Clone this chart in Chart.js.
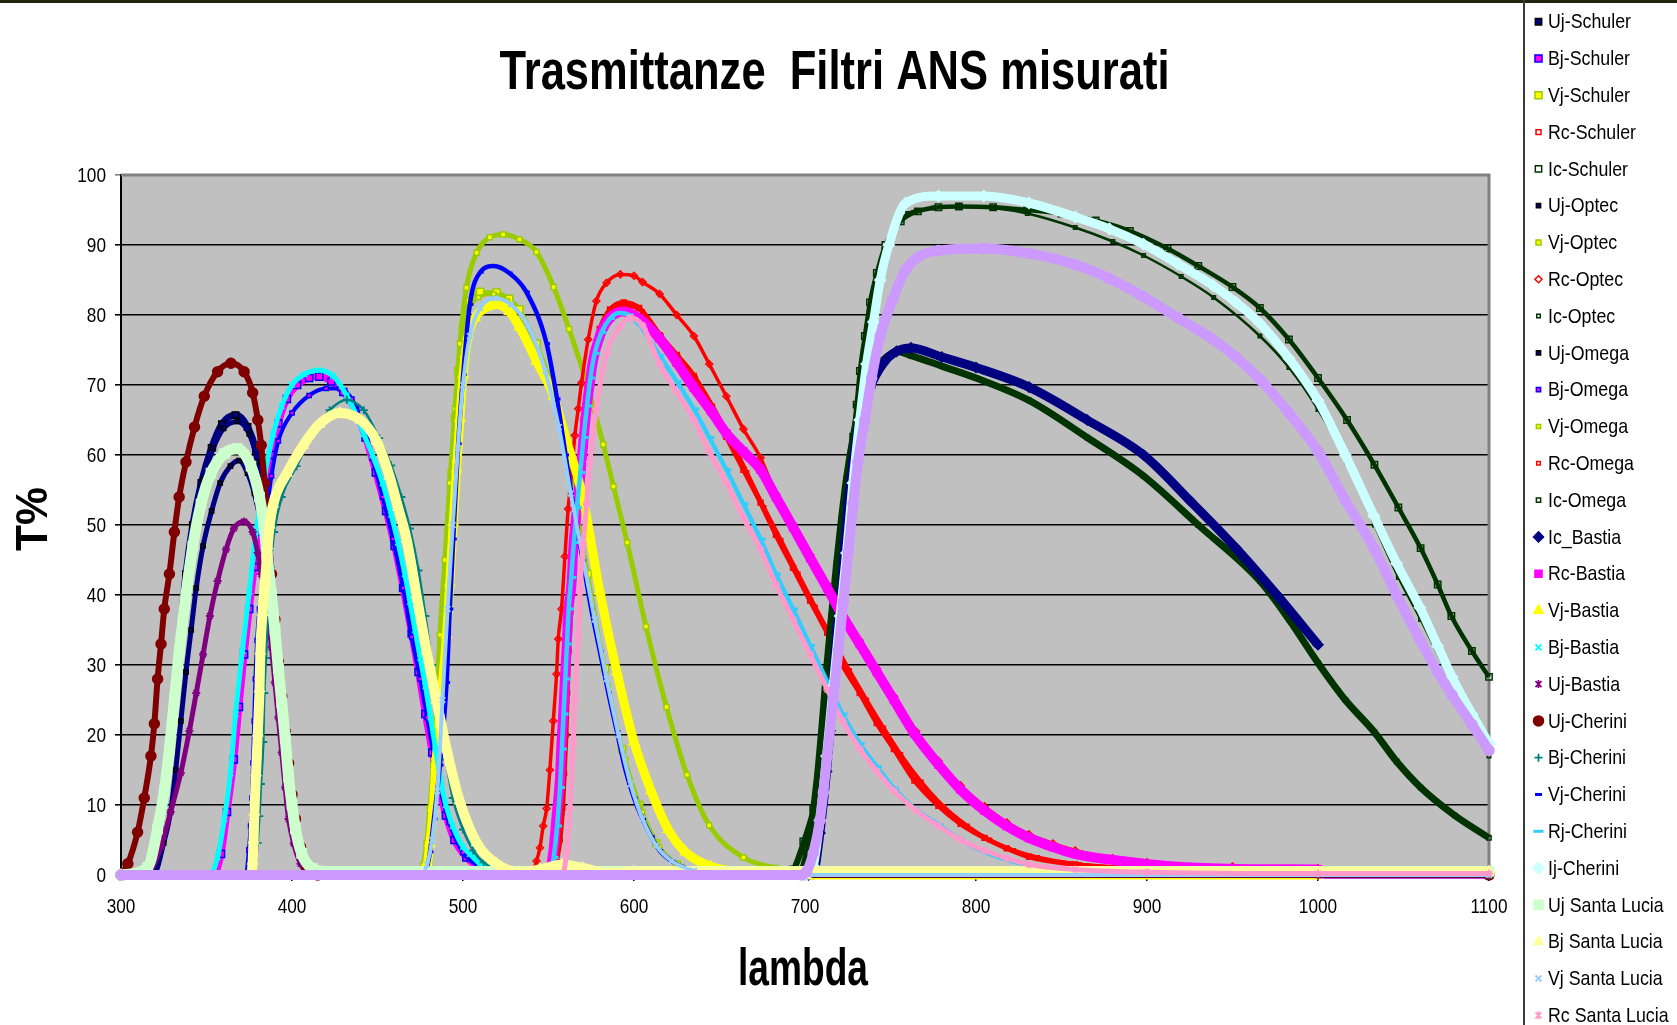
<!DOCTYPE html>
<html>
<head>
<meta charset="utf-8">
<title>Trasmittanze Filtri ANS misurati</title>
<script src="https://cdn.jsdelivr.net/npm/chart.js@4.4.1/dist/chart.umd.min.js"></script>
<style>
  html, body { margin: 0; padding: 0; background: #fff; overflow: hidden; }
  #c { position: absolute; left: 0; top: 0; }
</style>
</head>
<body>
<canvas id="c" width="1677" height="1025"></canvas>
<script>
// === Assi ===
const xTicks = [300, 400, 500, 600, 700, 800, 900, 1000, 1100];
const yTicks = [0, 10, 20, 30, 40, 50, 60, 70, 80, 90, 100];

const seriesNames = [
  "Uj-Schuler", "Bj-Schuler", "Vj-Schuler", "Rc-Schuler", "Ic-Schuler",
  "Uj-Optec", "Vj-Optec", "Rc-Optec", "Ic-Optec",
  "Uj-Omega", "Bj-Omega", "Vj-Omega", "Rc-Omega", "Ic-Omega",
  "Ic_Bastia", "Rc-Bastia", "Vj-Bastia", "Bj-Bastia", "Uj-Bastia",
  "Uj-Cherini", "Bj-Cherini", "Vj-Cherini", "Rj-Cherini", "Ij-Cherini",
  "Uj Santa Lucia", "Bj Santa Lucia", "Vj Santa Lucia", "Rc Santa Lucia", "Ic Santa Lucia"
];

// === Dati: [lambda, T%] ===
const ujSchuler = [[300,0],[317,0],[321,4.6],[324,9],[327,15],[330,21.5],[332,28],[335,35.5],[338,43],[342,50],[347,56],[353,61],[359,64.4],[367,65.7],[374,64],[379,60.5],[383,54.5],[385,49],[387,43],[389,37.5],[391,32],[393,26.5],[395,21],[397,15.5],[399,11],[401,7],[404,3.5],[408,1],[415,0],[1100,0]];
const bjSchuler = [[300,0],[354,0],[358.5,3],[362,9],[366,16.5],[369,24],[372,31.5],[375,38],[378,44],[381,49],[384,54],[388,60],[392,64.5],[397,68],[403,70],[410,71],[416,71.2],[423,70.5],[430,69],[437,66.5],[443,62.5],[449,57.5],[455,52],[460,47],[465,41],[470,34.5],[474,29],[478,23],[482,17.5],[486,12.5],[490,8.5],[495,5],[502,2.5],[512,0.8],[525,0],[1100,0]];
const vjSchuler = [[300,0],[476,0],[479.7,2],[481.6,6.4],[483.6,12.6],[485.5,20],[487.5,28.7],[489.4,37],[491.4,48.6],[493.3,57.3],[495.3,65.3],[497.2,72],[500,78.3],[504,82],[510,83.3],[519.6,83.2],[527,82.3],[533,80.8],[543,75.9],[553,69],[563,57],[573,43],[583,29.5],[593,18],[603,10],[613,4.5],[625,1.5],[640,0.3],[655,0],[1100,0]];
const rcSchuler = [[300,0],[552,0],[554,2],[556,5],[557.5,9],[558.5,14],[559.5,19],[560.3,25],[561,31],[562,37],[563.5,42],[564.5,47],[566.4,54],[568.4,59.7],[570.5,65],[573,70.5],[576,74.5],[580,78],[586,80.8],[594,81.8],[603,81],[615,77.1],[625,74.3],[635,71.3],[644,67.2],[654,62.6],[664,57.9],[674,53.2],[683,48.6],[693,43.9],[703,39.2],[713,34.6],[722,30],[732,26],[742,21.7],[752,18],[764,13.5],[778,9.9],[791,7.3],[805,5.3],[818,3.8],[831,2.6],[858,1.5],[885,1],[950,0.6],[1000,0.5]];
const icSchuler = [[300,0],[690,0],[693,0.8],[699,4.8],[704.8,9.5],[707.7,13],[710.7,17.7],[712.6,22.3],[715.5,27.6],[717.5,32.2],[719.4,38],[721.4,44],[723.3,49.7],[726.3,58],[728.2,62.6],[730.2,67.2],[732.1,72],[735,77],[738,81.8],[742,86],[747,90],[756,93.4],[766,94.8],[778,95.4],[790,95.5],[810,95.4],[830,95],[850,94.5],[870,93.5],[890,92],[912,89.5],[930,87],[950,84],[966,81],[983,76.5],[1000,71],[1017,65],[1033,58.6],[1047,52.5],[1060,46.7],[1070,41.5],[1078,37],[1090,32],[1100,28.3]];
const ujOptec = [[300,0],[319,0],[325,4.6],[329,9],[332,15],[335,22],[338,29],[341,35],[344,41],[348,47],[353,52],[358,56],[364,58.4],[369,59.2],[374,57.4],[378,54.5],[382,50],[385,45],[387,40],[389,35],[391,30],[393,25],[395,19.5],[397,14.5],[399,10],[401,6.5],[404,3],[408,0.8],[415,0],[1100,0]];
const vjOptec = [[300,0],[475,0],[476.7,1.4],[478.7,4.5],[480.6,9.5],[482.6,15.7],[484.5,24.4],[486.5,34.3],[489.4,45],[492.3,56],[495.3,66.6],[498.2,75.9],[502,83.9],[508,88.9],[515.7,91.1],[523.5,91.5],[533,90.8],[543,89],[553,84],[562,78],[572,70.5],[582,61.5],[588,55.5],[596,47.5],[607,35.5],[619,24],[631,14.3],[644,7.1],[664,2.5],[683,1],[700,0.2],[720,0],[1100,0]];
const rcOptec = [[300,0],[540,0],[543,2],[545,3.9],[546.9,7],[548.9,9.5],[550.8,15],[552.8,22],[554.7,28.7],[555.7,33.7],[557.6,38],[559.6,45.5],[561.5,52.3],[563.5,57.3],[565.4,62.8],[567.4,66.6],[569.3,70.3],[573.2,76.5],[578,82],[584,84.6],[592,85.8],[600,85.6],[605,84.7],[615,83],[625,80],[635,77],[644,73],[654,68.4],[664,63.7],[674,59.6],[683,54.4],[693,49.7],[703,45.5],[713,41.5],[722,37.5],[732,33.5],[742,29.5],[752,25.5],[765,20.5],[778,16.3],[791,12.8],[805,9.8],[818,7.5],[831,5.8],[845,4.5],[858,3.5],[880,2.4],[900,1.8],[950,1.2],[1000,1]];
const icOptec = [[300,0],[691,0],[695,1],[700,4.5],[705,10],[708.5,15],[711.5,21.5],[714,28],[716.5,34],[719,41],[721.5,47.5],[724,54],[727,61],[730,67],[733.5,73],[737,79],[741,84.5],[746,89],[752,92.5],[760,94.5],[775,95.3],[790,95.5],[810,95.3],[830,94.5],[858,92.5],[880,90.5],[898,88.5],[920,85.5],[939,82.5],[966,77],[983,72.5],[1000,66.5],[1017,59],[1033,50],[1047,42.5],[1060,36.5],[1078,27.5],[1090,21.5],[1100,17]];
const ujOmega = [[300,0],[318,0],[322,4.5],[325,9.5],[328,15.5],[331,22],[333,28.5],[336,36],[339,43.5],[343,50.5],[348,56.5],[354,61],[360,63.8],[368,64.8],[375,63],[380,59],[383,54],[385,48.5],[387,42.5],[389,37],[391,31.5],[393,26],[395,20.5],[397,15],[399,10.5],[401,6.8],[404,3.3],[408,1],[415,0],[1100,0]];
const bjOmega = [[300,0],[373,0],[374.8,3.6],[375.8,7],[376.6,11],[377.2,16],[377.9,22],[378.6,28],[379.6,33.5],[381,38],[382.5,39.5],[385,51],[388,57],[392,62],[400,66],[410,68.5],[420,69.5],[428,69.5],[435,68],[441,64.5],[447,59.5],[453,54],[459,48],[465,41],[470,34],[475,28],[479,22.5],[483,17],[487,12],[492,7.5],[500,3.2],[512,1],[525,0],[1100,0]];
const vjOmega = [[300,0],[477,0],[480,2.5],[482,7],[484,14],[486,22],[488,31],[490,40],[492.5,50],[494.5,59],[496.5,66.5],[499,74],[503,80],[509,82.5],[518,83],[526,82],[535,79.5],[545,74],[555,65.5],[565,53],[575,39.5],[585,27],[595,16.5],[605,9],[615,4],[628,1.2],[645,0.2],[660,0],[1100,0]];
const rcOmega = [[300,0],[553,0],[555,2],[557,5],[558.5,9.5],[559.5,14.5],[560.5,20],[561.3,26],[562.2,32],[563.2,37.5],[564.5,43],[565.8,48],[567.5,54.5],[569.5,60],[572,66],[575,71],[578.5,75.5],[583,79],[589,80.8],[596,81.3],[605,80.5],[616,77],[626,74],[636,71],[646,67],[656,62.5],[666,57.5],[676,52.5],[686,47.8],[696,43],[706,38.3],[716,33.7],[726,29.2],[736,25],[746,21],[756,17.2],[768,13.3],[781,9.8],[795,7],[808,5],[822,3.5],[836,2.5],[860,1.5],[900,0.9],[1000,0.5]];
const icOmega = [[300,0],[696,0],[701,3],[706.8,13],[710.7,23.5],[712.6,29.3],[715.5,37],[718.5,44.5],[721.4,51],[724.3,56.7],[728.2,62.6],[732.1,67.2],[738,71.3],[745.8,73.6],[753.5,74.8],[762,74.2],[780,72.7],[800,71],[831,67.8],[865,62.5],[898,57],[930,50],[966,42],[983,36.5],[1000,30.3],[1016,25],[1033,20.4],[1046,16.2],[1060,12.5],[1080,8.5],[1100,5.3]];
const icBastia = [[300,0],[702,0],[704.8,0.2],[708.7,6],[712.6,14.8],[714.6,20.6],[716.5,27.6],[718.5,34.6],[721.4,41],[723.3,47.4],[725.3,53.2],[728.2,59.1],[732.1,65],[738,69.6],[745.8,73.1],[753.5,74.8],[762,75.3],[780,74],[800,72.5],[831,69.7],[865,65],[898,60],[925,53.5],[952,46.7],[976,40],[1000,32.9]];
const rcBastia = [[300,0],[550,0],[552.8,3.3],[554.7,8.3],[556.7,13.8],[557.6,18.8],[558.6,23],[559.6,28],[560.6,32.4],[561.5,37.4],[563.5,41.7],[564.5,46.7],[566.4,51.7],[568.4,56.6],[570.3,61.6],[572.3,66.6],[574.2,70.3],[576,73.4],[580,77],[586,79.6],[594,80.5],[603,79.5],[615,76.6],[625,73.2],[635,69.6],[645,66.3],[654,63.1],[664,60.5],[674,57.9],[683,54],[693,49.7],[703,45.3],[713,41],[722,37],[732,33],[742,29],[752,25],[764,20.2],[778,15.8],[791,12.2],[805,9.2],[818,7],[831,5.3],[845,4],[858,3],[885,2],[912,1.3],[947,0.9],[1000,0.8]];
const vjBastia = [[300,0],[478,0],[480.6,4.5],[482.6,9.5],[484.5,17],[487.5,26],[490.4,34.3],[492.3,41.7],[494.3,50.4],[496.2,58],[498.2,65.3],[500.1,71.5],[503,77],[507,79.6],[513.8,81.1],[520,81.5],[527,80.5],[533,78.3],[543,73.4],[553,68.4],[560,62.5],[570,54],[580,40.5],[590,29],[600,19],[610,12],[620,6.5],[630,3.3],[645,1.2],[670,0.3],[700,0],[1000,0]];
const bjBastia = [[300,0],[352,0],[356.5,2.6],[360.4,8],[364,14.5],[367,23],[371,32],[375,40.5],[378,47],[381,52.5],[384,57],[389,63],[394,67],[400,70],[407,71.5],[416,72.1],[424,71.3],[432,68.5],[438,65.5],[442,63],[447,60],[453,56],[458,51.5],[462,47.5],[466,43],[469,39],[472,35],[475,31],[478,27],[481,22.5],[484,18],[487,13.5],[490,10],[494,7],[500,4],[504,3],[510,1.6],[518,0.8],[530,0],[1000,0]];
const ujBastia = [[300,0],[315,0],[317.5,0.6],[323.4,4.1],[329,9],[335,14.6],[340,20.6],[344,26],[348,31.5],[352,37],[356.5,42],[361.4,46.5],[366,49.5],[372,50.5],[377,49],[380,46],[382,43],[384.5,40],[386,37],[388,32.5],[390,27.5],[392,22.5],[394,17.5],[396,12.5],[398,8],[401,4.5],[405,1.6],[410,0],[1000,0]];
const ujCherini = [[300,0],[304,1.6],[309.7,6.1],[313.6,11],[317.5,17],[319.5,21.6],[321.4,28],[323.4,33],[325.3,38],[328.3,43],[331.2,49],[334,54],[338,59],[343,64],[348.7,68.4],[356.5,71.9],[364.3,73.1],[372,71.9],[377,68.9],[380,65],[382,61.4],[384,56],[386,50],[388,43],[390,36.5],[392,30.5],[394,25.5],[396,20.5],[398,16],[400,11.5],[402,8],[405,4],[409,1.1],[415,0],[1100,0]];
const bjCherini = [[300,0],[378,0],[379.9,4.6],[380.9,8.4],[381.9,13],[383.2,19],[383.8,26],[384.8,31],[386,38],[387.5,44],[389.6,49],[394,54],[402.7,58.4],[412,63],[422,66.4],[432,67.9],[442,66.4],[451,62.4],[458,58.5],[464,54],[469,49.5],[474,43.5],[478,37],[482,30],[486,23],[490,16.5],[494,11],[500,6.5],[506,3.5],[512,1.8],[525,0.4],[540,0],[1100,0]];
const vjCherini = [[300,0],[477,0],[478.7,0.8],[480.7,3.3],[483,8],[486.5,15.7],[490.4,27.5],[492.3,38],[494.3,48],[497.2,61.6],[500.1,71.5],[504,81.5],[510,86.1],[518,87],[527,86],[537,83.3],[548.9,75.9],[555,68],[560,60],[565,52],[570,45],[575,38],[580,32],[585,26],[590,20.5],[595,15],[600,11],[605,8],[610,5.5],[615,3.5],[622,2],[630,1],[645,0.2],[660,0],[1100,0]];
const rjCherini = [[300,0],[551,0],[553,2.5],[555,7],[556.7,12.5],[557.8,18],[558.8,23],[559.8,28],[560.8,33],[561.8,38],[563.3,42.5],[564.8,47.5],[566.6,52.5],[568.6,57.5],[570.5,62.5],[572.5,67],[574.5,71],[577,74.5],[581,77.5],[586,79.5],[591,80.3],[597,80],[605,78],[615,74.2],[625,70.5],[635,66.6],[644,62.5],[654,57.9],[664,53],[674,48],[683,43],[693,38],[703,32.8],[713,27.6],[722,23],[732,18.8],[742,15.5],[752,12.4],[764,9.5],[778,7.2],[791,5],[805,3.3],[818,2.2],[831,1.4],[858,0.7],[900,0.4],[1000,0.3],[1100,0.3]];
const ijCherini = [[300,0],[700,0],[704.8,1.3],[708.7,7.8],[712.6,17],[716.5,27],[720.5,37],[724.3,46],[728,56],[732,65],[736,73],[740,79],[744,85],[749,90],[759,96],[778,97],[804.5,97],[831,96],[858,94],[878,92.3],[898,90.1],[918,87.3],[938.7,84.2],[952,81.8],[965.6,78.9],[983,73.8],[1000,67.8],[1016,60],[1032.7,51.3],[1046,44.5],[1059.6,38.2],[1070,32.7],[1078.4,28.3],[1090,23],[1100,18.8]];
const ujSantaLucia = [[300,0],[315.6,1.1],[321.4,6.6],[325.3,12],[328.3,18],[331.2,25],[334.1,32],[338,40],[342,47],[346.8,53],[352.6,57.4],[360.4,60.2],[368,60.9],[376,58.4],[381,54],[383.5,50],[385.5,45.5],[388,40],[390,35],[392,29.5],[394,24.6],[396,19.6],[398,14],[400,10],[402,6.6],[405.6,3.1],[412,0.9],[420,0.5],[1100,0.5]];
const bjSantaLucia = [[300,0],[376,0],[377,2],[377.5,5],[378,9],[379,14.6],[380,20.3],[381,26.6],[381.5,32],[382.8,37.5],[384.2,42],[385.8,47],[387,50],[389,53],[397,57.4],[406.6,61.4],[416,64.4],[428,66],[440,65],[449.5,62],[457,57],[462,52.5],[467,48],[472.8,40],[478.7,32],[484.5,25],[490.4,18],[498,10.6],[508,4.6],[519.6,1.6],[533,0.4],[545,0.8],[558,1.5],[570,1],[585,0.3],[600,0.5],[1100,0.5]];
const vjSantaLucia = [[300,0],[476,0],[479,1.5],[482,5],[485,12],[488,25],[491,38],[494,50],[497,61],[500,70],[504,77],[510,81],[519,82.4],[528,81.5],[538,78.5],[548,72],[556,64],[563,54.5],[570,45.5],[577,36.5],[584,28],[591,20],[598,13],[605,8],[613,4.2],[622,2],[635,0.6],[650,0],[1100,0]];
const rcSantaLucia = [[300,0],[558,0],[560.6,3.3],[562.5,9.5],[564.5,18.8],[565.4,25],[567.4,34.3],[568.4,40.5],[570.3,47.3],[572.3,53],[574.2,59],[578,66.6],[584,74.6],[591.7,78.3],[597.6,79.6],[605,78.5],[615,73],[625,69],[635,65],[644,60.5],[654,56],[664,51],[674,46.5],[683,41.5],[693,36.5],[703,31.5],[713,26.5],[722,22],[732,18],[742,14.8],[752,12],[765,9.2],[778,7],[791,5],[805,3.5],[818,2.4],[831,1.5],[858,0.8],[900,0.4],[1000,0.2],[1100,0.2]];
const icSantaLucia = [[300,0],[698,0],[701,0.5],[704.8,3.1],[708.7,7.8],[710.7,11.8],[713,17],[716.5,25],[719.5,32],[722.4,39],[725.3,46],[728.2,53],[731,59],[735,65],[739,71],[744,77],[751,82],[759,86.5],[778,89.2],[804.5,89.5],[831,88.8],[858,87.2],[878,85.2],[898,82.6],[918,79.6],[938,76.6],[952,74],[966,70.8],[983,66],[1000,60.5],[1016,53.5],[1032.7,46.7],[1046,40],[1059.6,33.6],[1070,29],[1078.4,25.7],[1090,21.5],[1100,17.8]];

const seriesData = [
  ujSchuler, bjSchuler, vjSchuler, rcSchuler, icSchuler,
  ujOptec, vjOptec, rcOptec, icOptec,
  ujOmega, bjOmega, vjOmega, rcOmega, icOmega,
  icBastia, rcBastia, vjBastia, bjBastia, ujBastia,
  ujCherini, bjCherini, vjCherini, rjCherini, ijCherini,
  ujSantaLucia, bjSantaLucia, vjSantaLucia, rcSantaLucia, icSantaLucia
];

// === Stili (marker stile Excel) ===
const NONE = "rgba(0,0,0,0)";
const styles = [
  {shape:"rect", fill:"#000080", stroke:"#000000", r:4.5, lw:7, line:"#000080"},
  {shape:"rect", fill:"#FF00FF", stroke:"#0000FF", r:5, lw:7, line:"#FF00FF"},
  {shape:"rect", fill:"#FFFF00", stroke:"#99CC00", r:5, lw:4, line:"#99CC00"},
  {shape:"rect", fill:NONE, stroke:"#FF0000", r:3.5, lw:5, line:"#FF0000"},
  {shape:"rect", fill:NONE, stroke:"#003300", r:4.5, lw:4.5, line:"#003300"},
  {shape:"rect", fill:"#000080", stroke:"#000000", r:3, lw:5, line:"#000080"},
  {shape:"rect", fill:"#FFFF00", stroke:"#99CC00", r:3.5, lw:5, line:"#99CC00"},
  {shape:"rectRot", fill:NONE, stroke:"#FF0000", r:3.5, lw:3.5, line:"#FF0000"},
  {shape:"rect", fill:NONE, stroke:"#003300", r:2.5, lw:2.5, line:"#003300"},
  {shape:"rect", fill:"#000080", stroke:"#000000", r:3, lw:5, line:"#000080"},
  {shape:"rect", fill:"#FF00FF", stroke:"#0000FF", r:3, lw:4, line:"#0000FF"},
  {shape:"rect", fill:"#FFFF00", stroke:"#99CC00", r:3, lw:3.5, line:"#99CC00"},
  {shape:"rect", fill:NONE, stroke:"#FF0000", r:2.5, lw:4, line:"#FF0000"},
  {shape:"rect", fill:NONE, stroke:"#003300", r:3, lw:7, line:"#003300"},
  {shape:"rectRot", fill:"#000080", stroke:"#000080", r:5, lw:9, line:"#000080"},
  {shape:"rect", fill:"#FF00FF", stroke:"#FF00FF", r:5, lw:10, line:"#FF00FF"},
  {shape:"triangle", fill:"#FFFF00", stroke:"#FFFF00", r:5.5, lw:9, line:"#FFFF00"},
  {shape:"crossRot", fill:"#00FFFF", stroke:"#00FFFF", r:4, lw:5, line:"#00FFFF"},
  {shape:"star", fill:"#800080", stroke:"#800080", r:4, lw:5, line:"#800080"},
  {shape:"circle", fill:"#800000", stroke:"#800000", r:5, lw:6, line:"#800000"},
  {shape:"cross", fill:"#008080", stroke:"#008080", r:4, lw:2.5, line:"#008080"},
  {shape:"dash", fill:"#0000FF", stroke:"#0000FF", r:3.5, lw:4.5, line:"#0000FF"},
  {shape:"dash", fill:"#33CCFF", stroke:"#33CCFF", r:5, lw:4.5, line:"#33CCFF"},
  {shape:"rectRot", fill:"#CCFFFF", stroke:"#CCFFFF", r:5.5, lw:9, line:"#CCFFFF"},
  {shape:"rect", fill:"#CCFFCC", stroke:"#CCFFCC", r:6.5, lw:11, line:"#CCFFCC"},
  {shape:"triangle", fill:"#FFFF99", stroke:"#FFFF99", r:5.5, lw:10, line:"#FFFF99"},
  {shape:"crossRot", fill:"#99CCFF", stroke:"#99CCFF", r:4, lw:4, line:"#99CCFF"},
  {shape:"star", fill:"#FF99CC", stroke:"#FF99CC", r:4, lw:5, line:"#FF99CC"},
  {shape:"circle", fill:"#CC99FF", stroke:"#CC99FF", r:5, lw:10, line:"#CC99FF"}
];

const NARROW = "'Liberation Sans Narrow', 'Arial Narrow', 'Liberation Sans', Arial, sans-serif";
const WIDE = "'Liberation Sans', Arial, sans-serif";

// === Funzioni di disegno ===
function pointBorder(shape){
  if(shape==="dash") return 3;
  if(shape==="cross" || shape==="crossRot" || shape==="star") return 1.8;
  return 1.5;
}

function drawMarker(ctx, st, x, y){
  const r = st.r;
  ctx.save();
  ctx.fillStyle = st.fill;
  ctx.strokeStyle = st.stroke;
  ctx.lineWidth = pointBorder(st.shape);
  ctx.beginPath();
  if(st.shape==="rect"){
    const s = r*Math.SQRT1_2;
    ctx.rect(x-s, y-s, 2*s, 2*s);
    ctx.fill(); ctx.stroke();
  } else if(st.shape==="rectRot"){
    ctx.moveTo(x, y-r); ctx.lineTo(x+r, y); ctx.lineTo(x, y+r); ctx.lineTo(x-r, y); ctx.closePath();
    ctx.fill(); ctx.stroke();
  } else if(st.shape==="triangle"){
    ctx.moveTo(x, y-r); ctx.lineTo(x+r*0.866, y+r*0.5); ctx.lineTo(x-r*0.866, y+r*0.5); ctx.closePath();
    ctx.fill(); ctx.stroke();
  } else if(st.shape==="circle"){
    ctx.arc(x, y, r, 0, Math.PI*2);
    ctx.fill(); ctx.stroke();
  } else if(st.shape==="cross"){
    ctx.moveTo(x, y-r); ctx.lineTo(x, y+r); ctx.moveTo(x-r, y); ctx.lineTo(x+r, y);
    ctx.stroke();
  } else if(st.shape==="crossRot"){
    const d = r*0.75;
    ctx.moveTo(x-d, y-d); ctx.lineTo(x+d, y+d); ctx.moveTo(x+d, y-d); ctx.lineTo(x-d, y+d);
    ctx.stroke();
  } else if(st.shape==="star"){
    const d = r*0.75;
    ctx.moveTo(x-d, y-d); ctx.lineTo(x+d, y+d); ctx.moveTo(x+d, y-d); ctx.lineTo(x-d, y+d);
    ctx.moveTo(x, y-r); ctx.lineTo(x, y+r);
    ctx.stroke();
  } else if(st.shape==="dash"){
    ctx.moveTo(x-r, y); ctx.lineTo(x+r, y);
    ctx.stroke();
  }
  ctx.restore();
}

function fitText(ctx, text, x, y, font, width, rot){
  ctx.save();
  ctx.font = font;
  const sx = width / ctx.measureText(text).width;
  ctx.translate(x, y);
  if(rot) ctx.rotate(rot);
  ctx.scale(sx, 1);
  ctx.textAlign = "center";
  ctx.textBaseline = "alphabetic";
  ctx.fillStyle = "#000";
  ctx.fillText(text, 0, 0);
  ctx.restore();
}

// testo stretto (Arial Narrow) con fattore di compressione
function narrowText(ctx, text, x, y, align, k){
  ctx.save();
  ctx.translate(x, y);
  ctx.scale(k, 1);
  ctx.textAlign = align;
  ctx.fillText(text, 0, 0);
  ctx.restore();
}

const sfondoPlugin = {
  id: "sfondo",
  beforeDraw(chart){
    const {ctx, chartArea:a} = chart;
    ctx.save();
    ctx.fillStyle = "#FFFFFF";
    ctx.fillRect(0, 0, chart.width, chart.height);
    ctx.fillStyle = "#C0C0C0";
    ctx.fillRect(a.left, a.top, a.right-a.left, a.bottom-a.top);
    ctx.restore();
  },
  beforeDatasetsDraw(chart){
    const {ctx, chartArea:a} = chart;
    ctx.save();
    ctx.strokeStyle = "#808080";
    ctx.lineWidth = 3;
    ctx.beginPath();
    ctx.moveTo(a.left, a.top); ctx.lineTo(a.right, a.top); ctx.lineTo(a.right, a.bottom);
    ctx.stroke();
    ctx.restore();
  }
};

const testiPlugin = {
  id: "testi",
  afterDraw(chart){
    const ctx = chart.ctx;
    const xs = chart.scales.x, ys = chart.scales.y;
    // bordo superiore dell'immagine
    ctx.save();
    ctx.fillStyle = "#23230f";
    ctx.fillRect(0, 0, chart.width, 3);
    ctx.restore();

    fitText(ctx, "Trasmittanze  Filtri ANS misurati", 834.5, 89, "bold 56px " + WIDE, 670);
    fitText(ctx, "lambda", 803, 985, "bold 52px " + WIDE, 130);
    fitText(ctx, "T%", 47, 519, "bold 44px " + WIDE, 64, -Math.PI/2);

    // etichette degli assi
    ctx.save();
    ctx.font = "21px " + NARROW;
    ctx.fillStyle = "#000";
    ctx.textBaseline = "middle";
    const kt = Math.min(1, 28.7 / ctx.measureText("100").width);
    yTicks.forEach(v => narrowText(ctx, String(v), 106, ys.getPixelForValue(v) + 1, "right", kt));
    xTicks.forEach(v => narrowText(ctx, String(v), xs.getPixelForValue(v), 907, "center", kt));
    ctx.restore();

    // legenda
    ctx.save();
    ctx.strokeStyle = "#3a3a3a";
    ctx.lineWidth = 2;
    ctx.beginPath();
    ctx.moveTo(1524, 0); ctx.lineTo(1524, chart.height);
    ctx.stroke();
    ctx.font = "21px " + NARROW;
    const k = Math.min(1, 83 / ctx.measureText("Uj-Schuler").width);
    ctx.fillStyle = "#000";
    ctx.textBaseline = "middle";
    chart.data.datasets.forEach((ds, i)=>{
      const y = 21.7 + 36.8*i;
      drawMarker(ctx, styles[i], 1538.5, y);
      narrowText(ctx, ds.label, 1548, y + 1, "left", k);
    });
    ctx.restore();
  }
};

// === Grafico ===
const N = seriesData.length;
const datasets = seriesData.map((pts, i)=>{
  const st = styles[i];
  return {
    label: seriesNames[i],
    data: pts.map(p=>({x:p[0], y:p[1]})),
    showLine: true,
    borderColor: st.line,
    borderWidth: st.lw,
    cubicInterpolationMode: "monotone",
    pointStyle: st.shape,
    pointRadius: st.r,
    pointBackgroundColor: st.fill,
    pointBorderColor: st.stroke,
    pointBorderWidth: pointBorder(st.shape),
    clip: 8,
    order: N - i
  };
});

new Chart(document.getElementById("c"), {
  type: "scatter",
  data: { datasets },
  options: {
    responsive: false,
    animation: false,
    devicePixelRatio: 1,
    layout: { padding: { top: 175, right: 188, bottom: 0, left: 0 } },
    plugins: { legend: { display: false }, title: { display: false }, tooltip: { enabled: false } },
    scales: {
      x: {
        type: "linear", min: 300, max: 1100,
        afterBuildTicks: s => { s.ticks = xTicks.map(v=>({value:v})); },
        afterFit: s => { s.height = 150; },
        ticks: { display: false, autoSkip: false, maxRotation: 0 },
        grid: { drawOnChartArea: false, drawTicks: true, tickLength: 6, color: "#000", lineWidth: 1.5 },
        border: { display: true, color: "#000", width: 2 }
      },
      y: {
        type: "linear", min: 0, max: 100,
        afterBuildTicks: s => { s.ticks = yTicks.map(v=>({value:v})); },
        afterFit: s => { s.width = 121; },
        ticks: { display: false },
        grid: { color: c => (c.tick && c.tick.value===100) ? "#808080" : "#000", lineWidth: 1.6, tickLength: 6, drawTicks: true },
        border: { display: true, color: "#000", width: 2 }
      }
    }
  },
  plugins: [sfondoPlugin, testiPlugin]
});
</script>
</body>
</html>
